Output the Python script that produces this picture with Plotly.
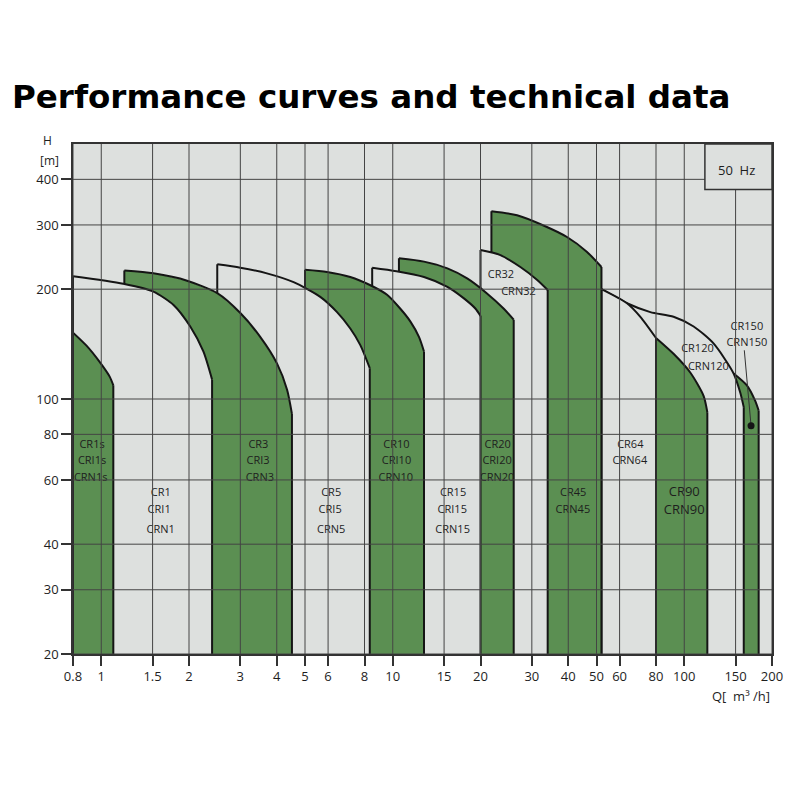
import numpy as np
import plotly.graph_objects as go

GREEN = '#5b8f52'
PANEL = '#dde0de'
INK = '#151515'
GRID = '#444444'

# top curve of each pump range: flow Q [m3/h] and head H [m]
cr1s_q = [0.8, 0.89, 0.99, 1.07, 1.1]
cr1s_h = [152, 140, 126, 115, 109]
cr1_q = [0.8, 1.19, 1.51, 1.77, 2.02, 2.24, 2.4]
cr1_h = [217, 207, 197, 181, 158, 135, 113]
cr3_q = [1.2, 1.51, 1.97, 2.5, 3.0, 3.51, 4.01, 4.34, 4.51]
cr3_h = [225, 221, 211, 195, 172, 148, 125, 106, 91]
cr5_q = [2.5, 3.0, 3.7, 4.57, 5.64, 6.44, 7.15, 7.74, 8.34]
cr5_h = [234, 229, 221, 209, 190.5, 173, 156, 140.5, 121.5]
cr10_q = [5.0, 5.95, 7.15, 8.38, 9.56, 10.6, 11.5, 12.3, 12.8]
cr10_h = [226, 223, 216, 205, 193, 177, 163, 148, 135]
cr15_q = [8.5, 10.3, 12.8, 15.4, 17.5, 19.2, 20]
cr15_h = [229, 224, 216, 203, 189, 177, 169]
cr20_q = [10.5, 12.8, 15.4, 18.0, 21.0, 24.0, 26.0]
cr20_h = [243, 238, 228, 214, 195, 177, 165]
cr32_q = [20, 23.4, 27.4, 31.3, 34]
cr32_h = [256, 248, 230, 212, 199]
cr45_q = [21.8, 26.7, 32.9, 39.6, 46.4, 52]
cr45_h = [327, 319, 299, 278, 253, 230]
cr64_q = [52, 63.6, 70.7, 80]
cr64_h = [200, 183, 168, 147]
cr90_q = [80, 91.9, 105, 116.5, 120]
cr90_h = [147, 133, 118, 102, 92]
cr120_q = [52, 63.6, 76.5, 91.9, 107.7, 126, 147.7, 155.7, 160]
cr120_h = [200, 183, 173, 168, 158, 142, 117.5, 104, 95]
cr150_q = [147.7, 164, 175, 180]
cr150_h = [117.5, 109, 99, 93]

H_MIN = 20

# small ranges sit on top of the next larger one
pumps = [
    (cr1s_q, cr1s_h, GREEN),
    (cr1_q, cr1_h, PANEL),
    (cr3_q, cr3_h, GREEN),
    (cr5_q, cr5_h, PANEL),
    (cr10_q, cr10_h, GREEN),
    (cr15_q, cr15_h, PANEL),
    (cr20_q, cr20_h, GREEN),
    (cr32_q, cr32_h, PANEL),
    (cr45_q, cr45_h, GREEN),
    (cr64_q, cr64_h, PANEL),
    (cr90_q, cr90_h, GREEN),
    (cr120_q, cr120_h, PANEL),
    (cr150_q, cr150_h, GREEN),
]

label_text = ['CR1s', 'CRI1s', 'CRN1s', 'CR1', 'CRI1', 'CRN1',
              'CR3', 'CRI3', 'CRN3', 'CR5', 'CRI5', 'CRN5',
              'CR10', 'CRI10', 'CRN10', 'CR15', 'CRI15', 'CRN15',
              'CR20', 'CRI20', 'CRN20', 'CR32', 'CRN32',
              'CR45', 'CRN45', 'CR64', 'CRN64',
              'CR120', 'CRN120', 'CR150', 'CRN150']
label_q = [0.93, 0.93, 0.92, 1.6, 1.58, 1.6,
           3.46, 3.45, 3.5, 6.15, 6.1, 6.15,
           10.3, 10.3, 10.25, 16.1, 16.0, 16.05,
           22.9, 22.8, 22.8, 23.5, 27.0,
           41.6, 41.5, 65.3, 65.1,
           111, 121, 164, 164]
label_h = [74.8, 67.3, 60.6, 55.2, 49.4, 43.8,
           74.8, 67.3, 60.6, 55.2, 49.4, 43.8,
           74.8, 67.3, 60.6, 55.2, 49.4, 43.8,
           74.8, 67.3, 60.6, 218, 196,
           55.2, 49.4, 74.8, 67.3,
           137, 122.5, 157, 142]
cr90_label = ['CR90', 'CRN90']
cr90_label_q = [100, 100]
cr90_label_h = [55.2, 49.4]

# duty point marked on CR150
dot_q = [169.5]
dot_h = [84.5]
leader_q = [160.7, 169.5]
leader_h = [136, 84.5]

x_ticks = [0.8, 1, 1.5, 2, 3, 4, 5, 6, 8, 10, 15, 20, 30, 40, 50, 60, 80, 100, 150, 200]
x_tick_text = ['0.8', '1', '1.5', '2', '3', '4', '5', '6', '8', '10', '15', '20',
               '30', '40', '50', '60', '80', '100', '150', '200']
y_ticks = [20, 30, 40, 60, 80, 100, 200, 300, 400]

fig = go.Figure()

for q, h, color in reversed(pumps):
    # area under the curve down to the bottom of the chart
    fig.add_trace(go.Scatter(
        x=[q[0]] + q + [q[-1]],
        y=[H_MIN] + h + [H_MIN],
        mode='lines', fill='toself', fillcolor=color,
        line=dict(width=0), hoverinfo='skip', showlegend=False
    ))
    # outline: left edge, curve, right edge
    fig.add_trace(go.Scatter(
        x=[q[0], q[0]], y=[H_MIN, h[0]],
        mode='lines', line=dict(color=INK, width=2),
        hoverinfo='skip', showlegend=False
    ))
    fig.add_trace(go.Scatter(
        x=q, y=h, mode='lines',
        line=dict(color=INK, width=2, shape='spline', smoothing=0.7),
        hoverinfo='skip', showlegend=False
    ))
    fig.add_trace(go.Scatter(
        x=[q[-1], q[-1]], y=[h[-1], H_MIN],
        mode='lines', line=dict(color=INK, width=2),
        hoverinfo='skip', showlegend=False
    ))

fig.add_trace(go.Scatter(
    x=label_q, y=label_h, text=label_text, mode='text',
    textfont=dict(family='Open Sans', size=11, color='#1e1e1e'),
    hoverinfo='skip', showlegend=False
))
fig.add_trace(go.Scatter(
    x=cr90_label_q, y=cr90_label_h, text=cr90_label, mode='text',
    textfont=dict(family='Open Sans', size=13, color='#1e1e1e'),
    hoverinfo='skip', showlegend=False
))
fig.add_trace(go.Scatter(
    x=leader_q, y=leader_h, mode='lines',
    line=dict(color='#333333', width=1),
    hoverinfo='skip', showlegend=False
))
fig.add_trace(go.Scatter(
    x=dot_q, y=dot_h, mode='markers',
    marker=dict(color=INK, size=7),
    hoverinfo='skip', showlegend=False
))

# grid sits over the filled areas
for v in x_ticks:
    fig.add_vline(x=v, line_color=GRID, line_width=1, layer='above')
for v in y_ticks:
    fig.add_hline(y=v, line_color=GRID, line_width=1, layer='above')

# frequency box in the top right corner
fig.add_shape(type='rect', xref='paper', yref='paper',
              x0=0.904, x1=1.0, y0=0.911, y1=1.0,
              fillcolor=PANEL, line=dict(color='#333333', width=1.5),
              layer='above')

txt = dict(family='Open Sans', size=13, color='#1e1e1e')
fig.add_annotation(text='50  Hz', xref='paper', yref='paper', x=0.9485, y=0.950,
                   xanchor='center', yanchor='middle', showarrow=False, font=txt)
fig.add_annotation(text='H', xref='paper', yref='paper', x=-0.036, y=1.006,
                   xanchor='center', yanchor='middle', showarrow=False,
                   font=dict(family='Open Sans', size=12, color='#1e1e1e'))
fig.add_annotation(text='[m]', xref='paper', yref='paper', x=-0.034, y=0.967,
                   xanchor='center', yanchor='middle', showarrow=False,
                   font=dict(family='Open Sans', size=12, color='#1e1e1e'))
fig.add_annotation(text='Q[  m³ /h]', xref='paper', yref='paper', x=1.0, y=-0.082,
                   xanchor='right', yanchor='middle', showarrow=False, font=txt)
fig.add_annotation(text='<b>Performance curves and technical data</b>',
                   xref='paper', yref='paper', x=-0.0895, y=1.092,
                   xanchor='left', yanchor='middle', showarrow=False,
                   font=dict(family='DejaVu Sans', size=32.5, color='black'))

fig.update_layout(
    width=800, height=800,
    margin=dict(l=65, r=36, t=136, b=154),
    paper_bgcolor='white',
    plot_bgcolor=PANEL,
    showlegend=False
)
fig.update_xaxes(
    type='log', range=[np.log10(0.8), np.log10(200)],
    tickvals=x_ticks, ticktext=x_tick_text,
    showgrid=False, zeroline=False,
    showline=True, mirror=True, linecolor='#333333', linewidth=1.5,
    ticks='outside', ticklen=10, tickcolor='#333333', tickwidth=1.5,
    tickfont=txt
)
fig.update_yaxes(
    type='log', range=[np.log10(20), np.log10(500)],
    tickvals=y_ticks, ticktext=[str(v) for v in y_ticks],
    showgrid=False, zeroline=False,
    showline=True, mirror=True, linecolor='#333333', linewidth=1.5,
    ticks='outside', ticklen=10, tickcolor='#333333', tickwidth=1.5,
    tickfont=txt
)

fig.write_html('out.html')
